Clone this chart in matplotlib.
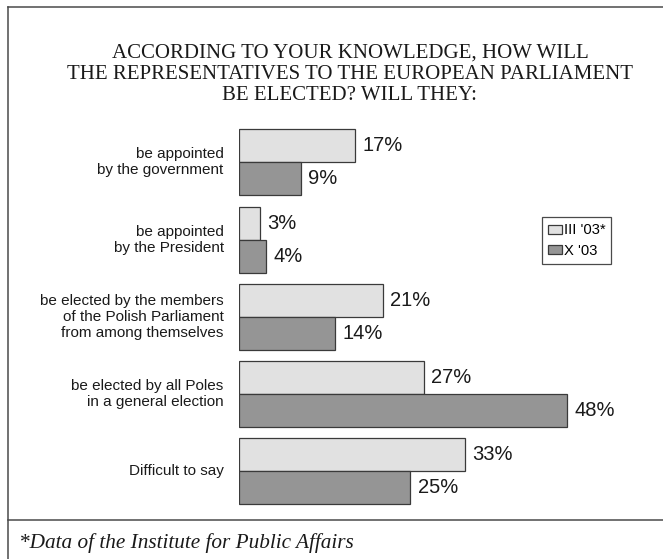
import matplotlib
matplotlib.use("Agg")
import matplotlib.pyplot as plt
from matplotlib.lines import Line2D
from matplotlib.patches import Patch

# Survey answers and shares (%)
categories = [
    "be appointed\nby the government",
    "be appointed\nby the President",
    "be elected by the members\nof the Polish Parliament\nfrom among themselves",
    "be elected by all Poles\nin a general election",
    "Difficult to say",
]
series_names = ["III '03*", "X '03"]
values_march = [17, 3, 21, 27, 33]
values_october = [9, 4, 14, 48, 25]

title_lines = [
    "ACCORDING TO YOUR KNOWLEDGE, HOW WILL",
    "THE REPRESENTATIVES TO THE EUROPEAN PARLIAMENT",
    "BE ELECTED? WILL THEY:",
]
footnote = "*Data of the Institute for Public Affairs"

W, H = 663, 559
light = "#e1e1e1"
dark = "#959595"
edge = "#3a3a3a"
frame = "#4a4a4a"

fig = plt.figure(figsize=(W / 100, H / 100), dpi=100)
fig.patch.set_facecolor("white")


def fx(px):
    return px / W


def fy(py):
    return 1 - py / H


# Bar area
ax_left, ax_right = 239, 239 + 342
ax_top, ax_bottom = 119.8, 514
ax = fig.add_axes([fx(ax_left), fy(ax_bottom), fx(ax_right - ax_left), (ax_bottom - ax_top) / H])
ax.set_xlim(0, 50)
ax.set_ylim(len(categories) - 0.45, -0.55)
ax.axis("off")

bar_h = 0.427
pos = list(range(len(categories)))
ax.barh([p - bar_h / 2 for p in pos], values_march, height=bar_h,
        color=light, edgecolor=edge, linewidth=0.9)
ax.barh([p + bar_h / 2 for p in pos], values_october, height=bar_h,
        color=dark, edgecolor=edge, linewidth=0.9)

sans = ["Liberation Sans", "DejaVu Sans"]
serif = ["Liberation Serif", "DejaVu Serif"]

for p, a, b in zip(pos, values_march, values_october):
    ax.annotate(f"{a}%", (a, p - bar_h / 2), xytext=(5.5, 0), textcoords="offset points",
                ha="left", va="center", fontsize=14.5, family=sans, color="#1a1a1a")
    ax.annotate(f"{b}%", (b, p + bar_h / 2), xytext=(5.5, 0), textcoords="offset points",
                ha="left", va="center", fontsize=14.5, family=sans, color="#1a1a1a")

for p, label in zip(pos, categories):
    ax.annotate(label, (0, p), xytext=(-11, 0), textcoords="offset points",
                ha="right", va="center", fontsize=11, family=sans, color="#1a1a1a",
                linespacing=1.18, multialignment="right")

# Legend
handles = [Patch(facecolor=light, edgecolor=edge, linewidth=0.9),
           Patch(facecolor=dark, edgecolor=edge, linewidth=0.9)]
leg = fig.legend(handles, series_names, loc="upper left",
                 bbox_to_anchor=(fx(542), fy(217.5)), borderaxespad=0,
                 prop={"family": sans, "size": 10.6},
                 handlelength=0.95, handleheight=0.55, handletextpad=0.12,
                 borderpad=0.4, labelspacing=0.45, fancybox=False,
                 framealpha=1, edgecolor=frame)
leg.get_frame().set_linewidth(0.9)

# Title
for i, line in enumerate(title_lines):
    fig.text(fx(350), fy(53 + 21.5 * i), line, ha="center", va="center",
             fontsize=15, family=serif, color="#1a1a1a")

# Frame lines
fig.add_artist(Line2D([fx(8), fx(8)], [fy(7), fy(H)], color=frame, lw=1.1))
fig.add_artist(Line2D([fx(8), fx(W)], [fy(7), fy(7)], color=frame, lw=1.1))
fig.add_artist(Line2D([fx(8), fx(W)], [fy(520), fy(520)], color=frame, lw=1.1))

fig.text(fx(19), fy(543), footnote, ha="left", va="center", fontsize=15.3,
         family=serif, style="italic", color="#1a1a1a")

fig.savefig("out.png", dpi=100)
